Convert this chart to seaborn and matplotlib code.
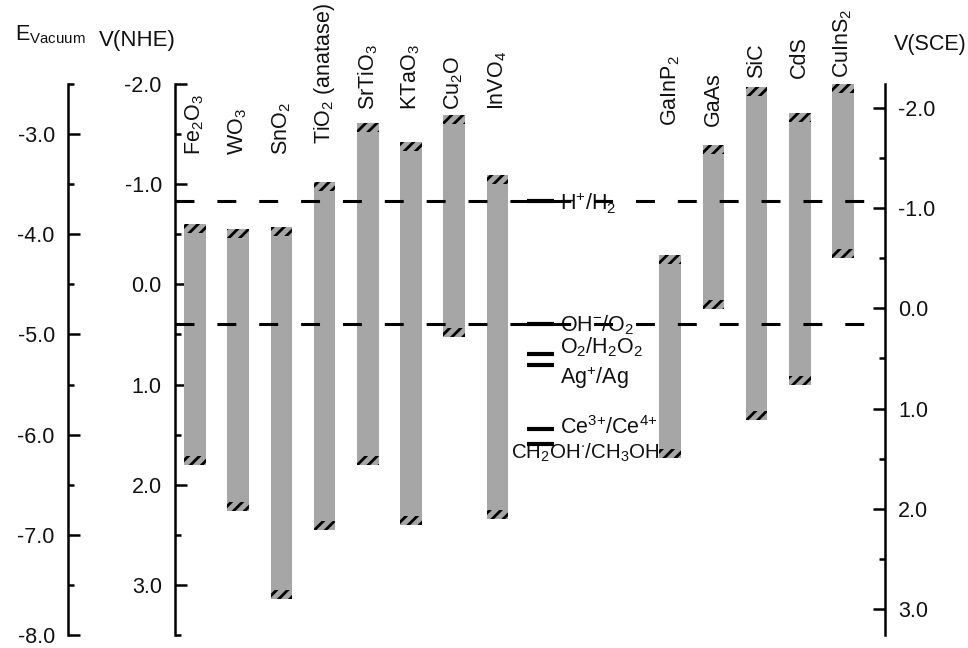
import numpy as np
import pandas as pd
import matplotlib
matplotlib.use('Agg')
import matplotlib.pyplot as plt
from matplotlib.ticker import MultipleLocator, FormatStrFormatter
import seaborn as sns

# === Data: band edges in V vs NHE ===
materials = ['Fe$_2$O$_3$', 'WO$_3$', 'SnO$_2$', 'TiO$_2$ (anatase)', 'SrTiO$_3$', 'KTaO$_3$',
             'Cu$_2$O', 'InVO$_4$', 'GaInP$_2$', 'GaAs', 'SiC', 'CdS', 'CuInS$_2$']
slots = [0, 1, 2, 3, 4, 5, 6, 7, 11, 12, 13, 14, 15]
cb_edge = [-0.60, -0.55, -0.57, -1.02, -1.61, -1.42, -1.69, -1.09, -0.29, -1.39, -1.97, -1.71, -2.00]
vb_edge = [1.80, 2.26, 3.14, 2.45, 1.80, 2.40, 0.53, 2.34, 1.73, 0.25, 1.35, 1.00, -0.26]

# redox couples (V vs NHE, pH 14)
couples = ['$H^{+}/H_2$', '$OH^{-}/O_2$', '$O_2/H_2O_2$', '$Ag^{+}/Ag$',
           '$Ce^{3{+}}/Ce^{4{+}}$', '$CH_2OH^{\\cdot}/CH_3OH$']
couple_pot = [-0.83, 0.40, 0.70, 0.80, 1.44, 1.59]
dashed_pot = [-0.83, 0.40]

# scale offsets
VAC_OFFSET = -4.5   # E_vac = -4.5 - V(NHE)
SCE_OFFSET = -0.24  # V(SCE) = V(NHE) - 0.24

# === Layout / style ===
GRAY = '#a6a6a6'
FS = 15.5
HATCH_H = 0.09
label_base = [-1.29, -1.29, -1.29, -1.40, -1.74, -1.74, -1.74, -1.74, -1.58, -1.58, -2.06, -2.06, -2.06]
couple_x = [8.45, 8.45, 8.45, 8.45, 8.45, 7.32]
couple_y = [-0.74, 0.47, 0.69, 0.99, 1.49, 1.74]
couple_fs = [FS, FS, FS, FS, FS, 14.8]

sns.set_style('white')
plt.rcParams['font.family'] = ['Liberation Sans', 'DejaVu Sans']
plt.rcParams['mathtext.default'] = 'regular'
plt.rcParams['axes.unicode_minus'] = False
plt.rcParams['hatch.linewidth'] = 2.0
plt.rcParams['hatch.color'] = 'black'

fig = plt.figure(figsize=(9.68, 6.48), dpi=100)
ax = fig.add_axes([175 / 968, 13 / 648, 710 / 968, 551 / 648])

df = pd.DataFrame({'slot': slots, 'cb': cb_edge, 'vb': vb_edge})
df['gap'] = df['vb'] - df['cb']

# === Bars ===
sns.barplot(data=df, x='slot', y='gap', bottom=df['cb'].to_numpy(), native_scale=True,
            width=0.5, color=GRAY, saturation=1, errorbar=None, linewidth=0, ax=ax)
# hatched ends
for base in [df['cb'].to_numpy(), df['vb'].to_numpy() - HATCH_H]:
    sns.barplot(x=df['slot'], y=np.full(len(df), HATCH_H), bottom=base, native_scale=True,
                width=0.5, color=GRAY, saturation=1, errorbar=None, linewidth=0,
                edgecolor='black', hatch='///', ax=ax)

ax.set_xlim(-0.46, 15.97)
ax.set_ylim(3.5, -2.0)
ax.set_xlabel('')
ax.set_ylabel('')

# dashed reference lines
for y in dashed_pot:
    ax.axhline(y, color='black', lw=2.2, ls=(0, (6.2, 7.5)), zorder=5)

# redox couple markers
ax.hlines(couple_pot, 8 - 0.32, 8 + 0.32, color='black', lw=3.0, zorder=5)
for name, x, y, fs in zip(couples, couple_x, couple_y, couple_fs):
    ax.text(x, y, name, fontsize=fs, ha='left', va='baseline', color='#111111')

# material labels
for name, x, y in zip(materials, slots, label_base):
    ax.text(x, y, name, fontsize=FS, rotation=90, ha='center', va='bottom',
            color='#111111', clip_on=False)

# === Axes ===
def style_axis(a, side, major, minor):
    for s in ['top', 'bottom', 'left', 'right']:
        a.spines[s].set_visible(s == side)
    a.spines[side].set_color('black')
    a.spines[side].set_linewidth(1.8)
    a.yaxis.set_major_locator(MultipleLocator(major))
    a.yaxis.set_minor_locator(MultipleLocator(minor))
    a.yaxis.set_major_formatter(FormatStrFormatter('%.1f'))
    a.tick_params(axis='y', which='both', direction='in', width=1.8, colors='black',
                  labelcolor='#111111', labelsize=FS, pad=9.5)
    a.tick_params(axis='y', which='major', length=8.6)
    a.tick_params(axis='y', which='minor', length=4.3)
    a.tick_params(axis='x', which='both', bottom=False, labelbottom=False)

style_axis(ax, 'left', 1.0, 0.5)

ax_vac = ax.twinx()
ax_vac.set_ylim(VAC_OFFSET - 3.5, VAC_OFFSET + 2.0)
ax_vac.yaxis.set_ticks_position('left')
ax_vac.yaxis.set_label_position('left')
style_axis(ax_vac, 'left', 1.0, 0.5)
ax_vac.spines['left'].set_position(('axes', -107 / 710))

ax_sce = ax.twinx()
ax_sce.set_ylim(3.5 + SCE_OFFSET, -2.0 + SCE_OFFSET)
style_axis(ax_sce, 'right', 1.0, 0.5)

# axis titles
fig.text(15 / 968, 1 - 40 / 648, 'E$_{Vacuum}$', fontsize=FS, ha='left', va='baseline', color='#111111')
fig.text(176 / 968, 1 - 46 / 648, 'V(NHE)', fontsize=FS + 0.5, ha='right', va='baseline', color='#111111')
fig.text(894 / 968, 1 - 50 / 648, 'V(SCE)', fontsize=FS, ha='left', va='baseline', color='#111111')

fig.savefig('out.png', dpi=100)
